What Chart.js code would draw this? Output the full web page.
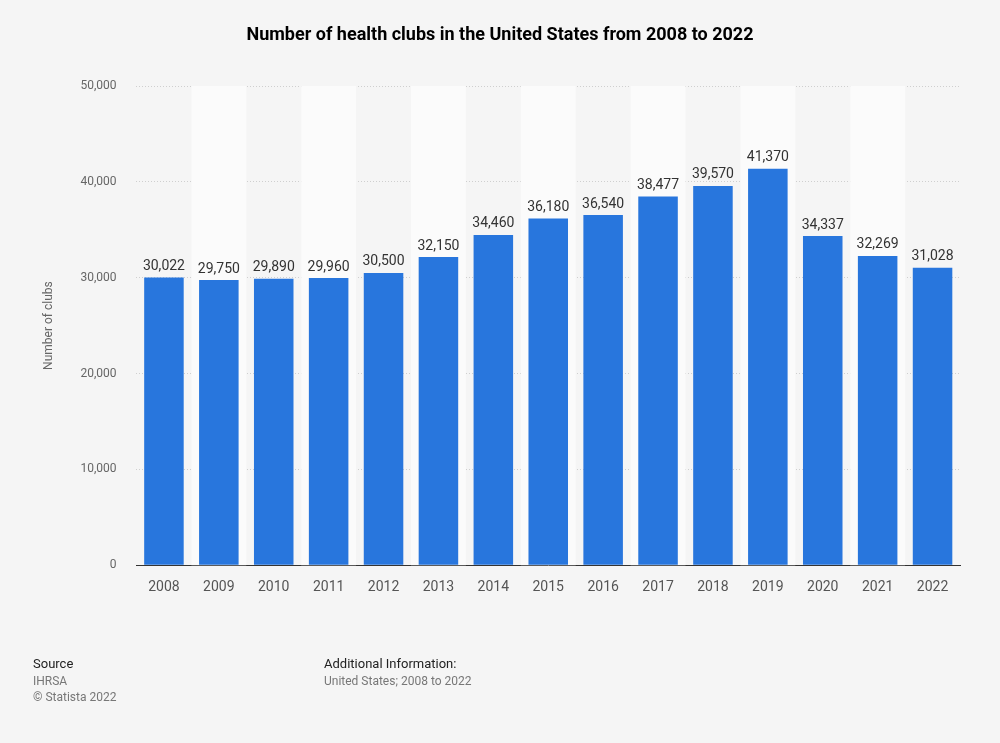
<!DOCTYPE html>
<html>
<head>
<meta charset="utf-8">
<script src="https://cdn.jsdelivr.net/npm/chart.js@4"></script>
<style>
  body { margin: 0; background: #f5f5f5; }
  canvas { display: block; }
</style>
</head>
<body>
<canvas id="myChart" width="1000" height="743"></canvas>
<script>
const years = ['2008', '2009', '2010', '2011', '2012', '2013', '2014', '2015', '2016', '2017', '2018', '2019', '2020', '2021', '2022'];
const clubs = [30022, 29750, 29890, 29960, 30500, 32150, 34460, 36180, 36540, 38477, 39570, 41370, 34337, 32269, 31028];

const FONT = 'Roboto, "Liberation Sans", Arial, sans-serif';

// alternating column bands, value labels, title and footer
const decor = {
    id: 'decor',
    beforeDatasetsDraw(chart) {
        const { ctx, chartArea, scales } = chart;
        const x = scales.x;
        const step = x.width / years.length;
        ctx.save();
        ctx.fillStyle = '#fbfbfb';
        years.forEach((y, i) => {
            if (i % 2 === 1) {
                const cx = x.getPixelForValue(i);
                ctx.fillRect(cx - step / 2, chartArea.top, step, chartArea.bottom - chartArea.top);
            }
        });
        ctx.restore();
    },
    afterDatasetsDraw(chart) {
        const { ctx } = chart;
        const meta = chart.getDatasetMeta(0);
        ctx.save();
        ctx.fillStyle = '#333';
        ctx.font = '14px ' + FONT;
        ctx.textAlign = 'center';
        ctx.textBaseline = 'bottom';
        meta.data.forEach((bar, i) => {
            ctx.fillText(clubs[i].toLocaleString('en-US'), bar.x, bar.y - 4);
        });
        ctx.font = 'bold 18px ' + FONT;
        ctx.fillStyle = '#000';
        ctx.textBaseline = 'middle';
        ctx.fillText('Number of health clubs in the United States from 2008 to 2022', 500, 35);
        ctx.textAlign = 'left';
        ctx.font = '13px ' + FONT;
        ctx.fillStyle = '#222';
        ctx.fillText('Source', 33, 665);
        ctx.fillText('Additional Information:', 324, 665);
        ctx.fillStyle = '#777';
        ctx.font = '12px ' + FONT;
        ctx.fillText('IHRSA', 33, 682);
        ctx.fillText('\u00a9 Statista 2022', 33, 698);
        ctx.fillText('United States; 2008 to 2022', 324, 682);
        ctx.restore();
    }
};

new Chart(document.getElementById('myChart').getContext('2d'), {
    type: 'bar',
    data: {
        labels: years,
        datasets: [{
            data: clubs,
            backgroundColor: '#2876dd',
            categoryPercentage: 0.72,
            barPercentage: 1
        }]
    },
    options: {
        responsive: false,
        animation: false,
        layout: { padding: { top: 86, left: 38, right: 40, bottom: 141 } },
        plugins: { legend: { display: false }, tooltip: { enabled: false } },
        scales: {
            x: {
                grid: { display: false },
                border: { color: '#333' },
                ticks: { color: '#555', font: { size: 14, family: FONT }, padding: 6 }
            },
            y: {
                min: 0,
                max: 50000,
                ticks: {
                    stepSize: 10000,
                    color: '#666',
                    font: { size: 12, family: FONT },
                    padding: 20,
                    callback: v => v.toLocaleString('en-US')
                },
                grid: { color: '#cfcfcf', drawTicks: false },
                border: { display: false, dash: [1, 2] },
                title: { display: true, text: 'Number of clubs', color: '#666', font: { size: 12, family: FONT } }
            }
        }
    },
    plugins: [decor]
});
</script>
</body>
</html>
